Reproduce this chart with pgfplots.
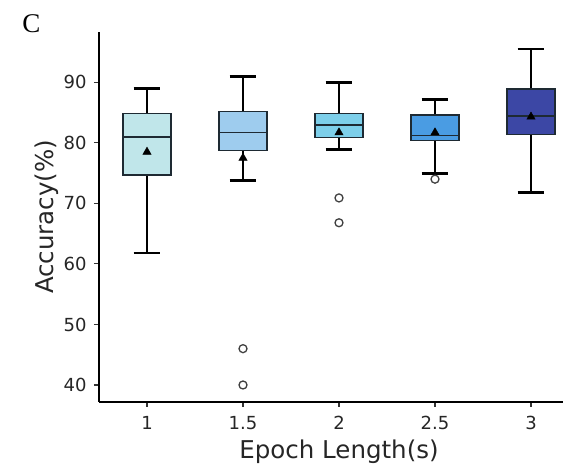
\documentclass[border=0pt]{standalone}
\usepackage{fontspec}
\setmainfont{DejaVu Sans}
\newfontfamily\timesfont{Liberation Serif}
\usepackage{pgfplots}
\pgfplotsset{compat=1.18}
\definecolor{cA}{HTML}{C0E6EA}
\definecolor{cB}{HTML}{9ECCEE}
\definecolor{cC}{HTML}{7DCFEA}
\definecolor{cD}{HTML}{4A9CE3}
\definecolor{cE}{HTML}{3C47A5}
\definecolor{edge}{HTML}{1E2A33}
% #1 position, #2 left, #3 right, #4 lw, #5 q1, #6 med, #7 q3, #8 uw, #9 colour
\newcommand\bx[9]{%
  \addplot[line width=2.8pt, black] coordinates {(#1,#4) (#1,#5)};
  \addplot[line width=2.8pt, black] coordinates {(#1,#7) (#1,#8)};
  \addplot[line width=2.8pt, black] coordinates {(#1-0.07,#4) (#1+0.07,#4)};
  \addplot[line width=2.8pt, black] coordinates {(#1-0.07,#8) (#1+0.07,#8)};
  \addplot[fill=#9, draw=edge, line width=1.4pt] coordinates {(#2,#5) (#3,#5) (#3,#7) (#2,#7)} -- cycle;
  \addplot[line width=1.8pt, edge] coordinates {(#2,#6) (#3,#6)};
}
\begin{document}
\begin{tikzpicture}
\path[use as bounding box] (-99pt,-64pt) rectangle (464pt,402pt);
\begin{axis}[
  at={(0,0)}, anchor=south west,
  scale only axis, width=480pt, height=370.3pt,
  xmin=0.75, xmax=3.25, ymin=37.19, ymax=98.36,
  axis lines=left,
  axis line style={-, line width=2pt, black},
  xtick={1,1.5,2,2.5,3}, ytick={40,50,60,70,80,90},
  xticklabels={1,1.5,2,2.5,3},
  tick align=outside, tick pos=left,
  major tick length=5pt,
  tick style={line width=1.1pt, black!80},
  /pgf/number format/assume math mode=true,
  ticklabel style={font=\fontsize{18}{20}\selectfont, text=black!85},
  xticklabel style={anchor=north, yshift=-6pt},
  yticklabel style={anchor=east, xshift=-4pt},
  xlabel={Epoch Length(s)}, ylabel={Accuracy(\%)},
  label style={font=\fontsize{24.5}{28}\selectfont, text=black!85},
  xlabel style={at={([yshift=-56.3pt]axis description cs:0.5,0)}, anchor=base},
  ylabel style={at={([xshift=-45.5pt]axis description cs:0,0.5)}, anchor=base, rotate=0},
]
\bx{1}{0.875}{1.125}{61.8}{74.7}{81.0}{84.8}{89.0}{cA}
\bx{1.5}{1.375}{1.625}{73.8}{78.7}{81.7}{85.2}{91.0}{cB}
\bx{2}{1.875}{2.125}{78.9}{80.9}{83.0}{84.8}{90.0}{cC}
\bx{2.5}{2.375}{2.625}{74.9}{80.4}{81.2}{84.6}{87.1}{cD}
\bx{3}{2.875}{3.125}{71.8}{81.4}{84.4}{88.9}{95.5}{cE}
% outliers
\addplot[only marks, mark=o, mark size=4pt, mark options={draw=black!75, line width=1.3pt, fill=white}]
  coordinates {(1.5,46.0) (1.5,40.0) (2,70.9) (2,66.8) (2.5,74.0)};
% means
\addplot[only marks, mark=triangle*, mark size=4.8pt, mark options={fill=black, draw=black}]
  coordinates {(1,78.5) (1.5,77.5) (2,81.7) (2.5,81.7) (3,84.3)};
\end{axis}
\node[font=\timesfont\fontsize{27}{30}\selectfont, anchor=center] at (-67.5pt,378pt) {C};
\end{tikzpicture}
\end{document}
